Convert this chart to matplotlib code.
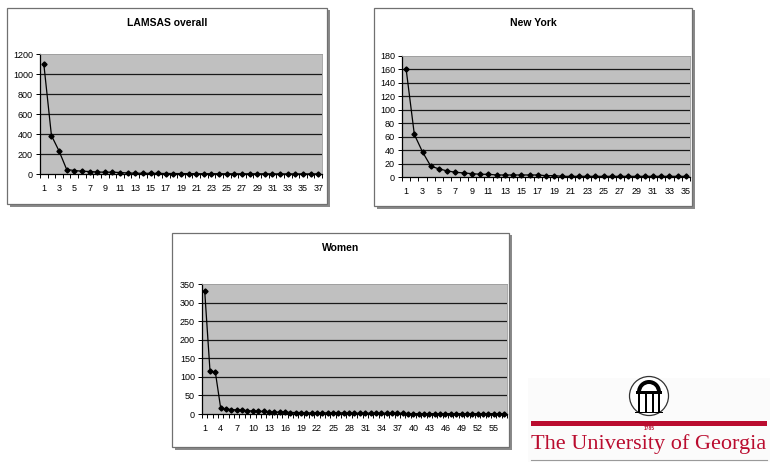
import matplotlib
matplotlib.use("Agg")
import matplotlib.pyplot as plt
from matplotlib.patches import Rectangle, Circle, Wedge
from matplotlib.ticker import MultipleLocator, FixedLocator, NullFormatter

plt.rcParams['font.family'] = ['Liberation Sans', 'DejaVu Sans']

# Frequency of each rank, three groups
lamsas_counts = [1100, 385, 230, 45, 35, 28, 25, 20, 18, 18, 15, 10, 8, 7, 7, 6,
                 5, 5, 4, 4, 3, 3, 3, 3, 2, 2, 2, 2, 2, 2, 1, 1, 1, 1, 1, 1, 1]
newyork_counts = [160, 63, 37, 16, 12, 9, 7, 6, 5, 4, 4, 3, 3, 3, 3, 3, 3, 2,
                  2, 1, 1, 1, 1, 1, 1, 1, 1, 1, 1, 1, 1, 1, 1, 1, 1]
women_counts = [332, 115, 112, 15, 13, 12, 11, 10, 9, 8, 7, 7, 5, 5, 5, 5, 4, 4,
                4, 3, 3, 3, 3, 3, 3, 3, 3, 2, 2, 2, 2, 2, 2, 2, 2, 2, 2, 2,
                1, 1, 1, 1, 1, 1, 1, 1, 1, 1, 1, 1, 1, 1, 1, 1, 1, 1, 1]

titles = ["LAMSAS overall", "New York", "Women"]
y_max = [1200, 180, 350]
y_step = [200, 20, 50]
label_every = [2, 2, 3]

W, H = 770, 462
fig = plt.figure(figsize=(W / 100, H / 100), dpi=100)
fig.patch.set_facecolor('white')

# Full-figure canvas in pixel units for frames, titles and the logo
bg = fig.add_axes([0, 0, 1, 1], zorder=0)
bg.set_xlim(0, W)
bg.set_ylim(H, 0)
bg.axis('off')


def px_axes(left, top, right, bottom):
    return fig.add_axes([left / W, 1 - bottom / H, (right - left) / W, (bottom - top) / H], zorder=2)


def frame(left, top, right, bottom):
    # shadow strip on the right and a thin one below, then white chart area
    bg.add_patch(Rectangle((left + 3, top + 2), right - left, bottom - top + 0.5,
                           facecolor='#8a8a8a', edgecolor='none'))
    bg.add_patch(Rectangle((left, top), right - left, bottom - top,
                           facecolor='white', edgecolor='#707070', linewidth=0.9))


frames = [(7, 8, 327, 204), (374, 8, 692, 206), (172, 233, 509, 447)]
plots = [(40, 54, 322, 174), (402, 55.5, 690, 177), (202, 284, 507, 414)]
series = [lamsas_counts, newyork_counts, women_counts]

for (fl, ft, fr, fb), (pl, pt, pr, pb), data, title, ymax, ystep, every in zip(
        frames, plots, series, titles, y_max, y_step, label_every):
    frame(fl, ft, fr, fb)
    bg.text((fl + fr) / 2, ft + 15, title, ha='center', va='center',
            fontsize=7.5, fontweight='bold', color='black')

    ax = px_axes(pl, pt, pr, pb)
    ax.set_facecolor('#C0C0C0')
    n = len(data)
    x = list(range(1, n + 1))
    ax.set_xlim(0.5, n + 0.5)
    ax.set_ylim(0, ymax)
    ax.yaxis.set_major_locator(MultipleLocator(ystep))
    # horizontal gridlines at every value step below the top of the plot area
    for level in range(ystep, ymax, ystep):
        ax.axhline(level, color='#1a1a1a', linewidth=0.9, zorder=1)

    ax.plot(x, data, color='black', linewidth=0.9, marker='D', markersize=2.6,
            markerfacecolor='black', markeredgecolor='black', zorder=3, clip_on=False)

    ax.xaxis.set_major_locator(FixedLocator(x[::every]))
    ax.xaxis.set_minor_locator(FixedLocator([i + 0.5 for i in range(0, n + 1)]))
    ax.xaxis.set_minor_formatter(NullFormatter())
    ax.tick_params(axis='x', which='major', length=0, pad=7.5, labelsize=6.5)
    ax.tick_params(axis='x', which='minor', length=3, width=0.7, direction='out', color='black')
    ax.tick_params(axis='y', which='major', length=3, width=0.7, direction='out',
                   labelsize=6.5, pad=2)

    for side in ('left', 'bottom'):
        ax.spines[side].set_color('black')
        ax.spines[side].set_linewidth(0.9)
    for side in ('top', 'right'):
        ax.spines[side].set_color('#9a9a9a')
        ax.spines[side].set_linewidth(0.6)

# University logo
bg.add_patch(Rectangle((528, 378), W - 528, H - 378, facecolor='#fbfbfb', edgecolor='none'))
red = '#BA0C2F'
cx, cy, r = 649, 396, 19.5
bg.add_patch(Circle((cx, cy), r, facecolor='white', edgecolor='#333333', linewidth=0.9))
bg.add_patch(Wedge((cx, cy - 4), 12, 180, 360, width=4, facecolor='black', edgecolor='none'))
bg.add_patch(Rectangle((cx - 13, cy - 5), 26, 3, facecolor='black', edgecolor='none'))
for dx in (-11, -4.5, 2.5, 9):
    bg.add_patch(Rectangle((cx + dx, cy - 3), 2.2, 19, facecolor='black', edgecolor='none'))
bg.add_patch(Rectangle((cx - 14, cy + 15.5), 28, 1.8, facecolor='black', edgecolor='none'))
bg.add_patch(Rectangle((531, 421), 236, 5, facecolor=red, edgecolor='none'))
bg.text(cx, 428, "1785", ha='center', va='center', fontsize=3.5, color=red,
        fontweight='bold')
bg.text(649, 444, "The University of Georgia", ha='center', va='center',
        fontsize=16, color=red, family=['Liberation Serif', 'DejaVu Serif'])
bg.plot([531, 767], [459.5, 459.5], color='#9a9a9a', linewidth=0.8)

fig.savefig('out.png', dpi=100, facecolor='white')
